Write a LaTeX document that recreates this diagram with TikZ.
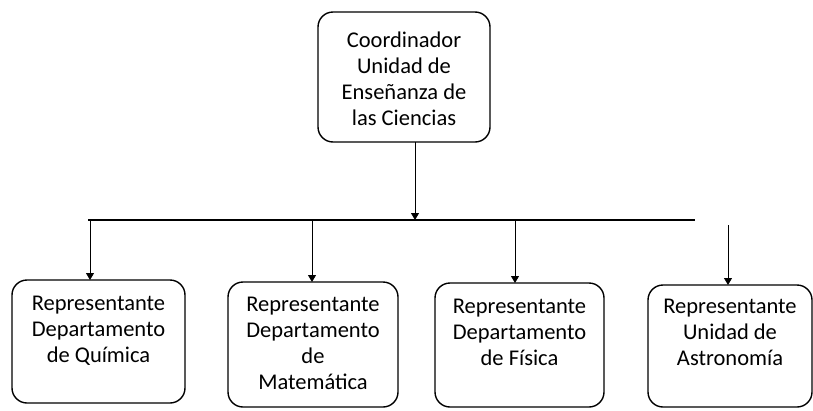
\documentclass[tikz,border=0pt]{standalone}
\usepackage{fontspec}
\setmainfont{Carlito}
\usetikzlibrary{arrows.meta}
\begin{document}
\begin{tikzpicture}[x=1pt,y=-1pt,
  box/.style={draw, line width=1.4pt, rounded corners=15pt},
  lbl/.style={align=center, font=\fontsize{22.5}{26}\selectfont, inner sep=0pt},
  conn/.style={line width=0.9pt, -{Triangle[width=8pt,length=7pt]}},
  bar/.style={line width=2.2pt}]
\useasboundingbox (0,0) rectangle (813,410);
% top box
\draw[box] (318,12) rectangle (490,142);
\node[lbl] (top) at (404,79) {Coordinador\\Unidad de\\Enseñanza de\\las Ciencias};
\coordinate (tb) at (415,142);
\coordinate (tj) at (415,220);
% bar
\coordinate (bl) at (88,220);
\coordinate (br) at (695,220);
\draw[bar] (bl) -- (br);
% boxes
\draw[box] (12,280) rectangle (185,403);
\draw[box] (228,282) rectangle (398,407);
\draw[box] (435,283) rectangle (604,407);
\draw[box] (648,285) rectangle (812,407);
\node[lbl, anchor=north] (b1) at (98.5,296) {Representante\\Departamento\\de Química};
\node[lbl, anchor=north] (b2) at (313,297) {Representante\\Departamento\\de\\Matemática};
\node[lbl, anchor=north] (b3) at (519.5,299) {Representante\\Departamento\\de Física};
\node[lbl, anchor=north] (b4) at (730,299) {Representante\\Unidad de\\Astronomía};
\coordinate (a1s) at (90,220);
\coordinate (a1e) at (90,280);
\coordinate (a2s) at (312,220);
\coordinate (a2e) at (312,282);
\coordinate (a3s) at (515,220);
\coordinate (a3e) at (515,283);
\coordinate (a4s) at (728,225);
\coordinate (a4e) at (728,285);
\draw[conn] (tb) -- (tj);
\draw[conn] (a1s) -- (a1e);
\draw[conn] (a2s) -- (a2e);
\draw[conn] (a3s) -- (a3e);
\draw[conn] (a4s) -- (a4e);
\end{tikzpicture}
\end{document}
